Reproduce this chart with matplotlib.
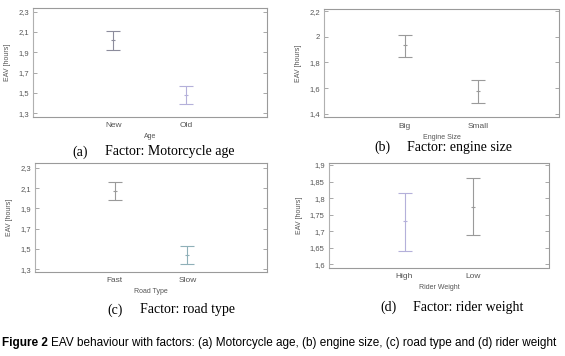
import matplotlib
matplotlib.use("Agg")
import matplotlib.pyplot as plt

# panel data: category labels, means, lower/upper interval limits
age_cats = ["New", "Old"]
age_mean = [2.02, 1.477]
age_low = [1.927, 1.386]
age_high = [2.108, 1.566]

engine_cats = ["Big", "Small"]
engine_mean = [1.935, 1.579]
engine_low = [1.839, 1.483]
engine_high = [2.018, 1.66]

road_cats = ["Fast", "Slow"]
road_mean = [2.074, 1.44]
road_low = [1.983, 1.352]
road_high = [2.157, 1.527]

weight_cats = ["High", "Low"]
weight_mean = [1.731, 1.772]
weight_low = [1.641, 1.688]
weight_high = [1.816, 1.862]

age_ticks = [1.3, 1.5, 1.7, 1.9, 2.1, 2.3]
engine_ticks = [1.4, 1.6, 1.8, 2.0, 2.2]
road_ticks = [1.3, 1.5, 1.7, 1.9, 2.1, 2.3]
weight_ticks = [1.6, 1.65, 1.7, 1.75, 1.8, 1.85, 1.9]

GRAY = "#9a9a9a"
LAVENDER = "#b4b0da"
TICK_FONT = "Liberation Sans"


def fmt(v):
    s = ("%.2f" % v).rstrip("0").rstrip(".")
    return s.replace(".", ",")


def panel(fig, rect, cats, mean, low, high, ticks, ylim, xlabel, colors,
          tag, caption, cap_xy):
    ax = fig.add_axes(rect)
    for i, c in enumerate(cats):
        err = [[mean[i] - low[i]], [high[i] - mean[i]]]
        ax.errorbar([i], [mean[i]], yerr=err, fmt="_", color=colors[i],
                    ecolor=colors[i], elinewidth=0.8, capsize=5, capthick=0.8,
                    markersize=3, markeredgewidth=0.8)
    ax.set_xlim(-1.1, 2.1)
    ax.set_ylim(*ylim)
    ax.set_xticks(range(len(cats)))
    ax.set_xticklabels(cats)
    ax.set_yticks(ticks)
    ax.set_yticklabels([fmt(t) for t in ticks])
    ax.tick_params(axis="x", length=0, pad=4, labelsize=6, labelcolor="#555555")
    ax.tick_params(axis="y", direction="in", length=3, width=0.6, color=GRAY,
                   right=True, pad=3, labelsize=5.5, labelcolor="#555555")
    for lab in ax.get_xticklabels() + ax.get_yticklabels():
        lab.set_fontfamily(TICK_FONT)
    for side in ["top", "bottom", "right"]:
        ax.spines[side].set_linestyle((0, (1, 1)))
        ax.spines[side].set_color(GRAY)
        ax.spines[side].set_linewidth(0.8)
    ax.spines["left"].set_color("#b0b0b0")
    ax.spines["left"].set_linewidth(0.8)
    ax.set_xlabel(xlabel, fontsize=5, color="#555555", family=TICK_FONT, labelpad=3)
    ax.set_ylabel("EAV [hours]", fontsize=5, color="#555555", family=TICK_FONT,
                  labelpad=5)
    fig.text(cap_xy[0], cap_xy[1], tag, fontsize=10, family="Liberation Serif",
             ha="left", va="center")
    fig.text(cap_xy[0] + 33 / 565, cap_xy[1], caption, fontsize=10,
             family="Liberation Serif", ha="left", va="center")
    return ax


fig = plt.figure(figsize=(5.65, 3.56), dpi=100)

panel(fig, [0.0584, 0.672, 0.414, 0.3045], age_cats, age_mean, age_low, age_high,
      age_ticks, (1.264, 2.333), "Age", ["#8c8c9c", LAVENDER],
      "(a)", "Factor: Motorcycle age", (72 / 565, 1 - 152 / 356))
panel(fig, [0.5735, 0.671, 0.416, 0.303], engine_cats, engine_mean, engine_low,
      engine_high, engine_ticks, (1.374, 2.215), "Engine Size", [GRAY, GRAY],
      "(b)", "Factor: engine size", (374 / 565, 1 - 147 / 356))
panel(fig, [0.062, 0.2368, 0.4106, 0.3045], road_cats, road_mean, road_low,
      road_high, road_ticks, (1.276, 2.344), "Road Type", [GRAY, "#8fb0b8"],
      "(c)", "Factor: road type", (107 / 565, 1 - 310 / 356))
panel(fig, [0.5823, 0.248, 0.389, 0.294], weight_cats, weight_mean, weight_low,
      weight_high, weight_ticks, (1.59, 1.906), "Rider Weight", [LAVENDER, GRAY],
      "(d)", "Factor: rider weight", (380 / 565, 1 - 307 / 356))

# figure caption: bold lead, then the rest placed right after it
cap_y = 1 - 343 / 356
lead = fig.text(2 / 565, cap_y, "Figure 2", fontsize=8.5, fontweight="bold",
                family="Liberation Sans", ha="left", va="center")
renderer = fig.canvas.get_renderer()
bb = lead.get_window_extent(renderer)
fig.text((bb.x1 + 3) / 565, cap_y,
         "EAV behaviour with factors: (a) Motorcycle age, (b) engine size, "
         "(c) road type and (d) rider weight",
         fontsize=8.5, family="Liberation Sans", ha="left", va="center")

fig.savefig("out.png", dpi=100)
